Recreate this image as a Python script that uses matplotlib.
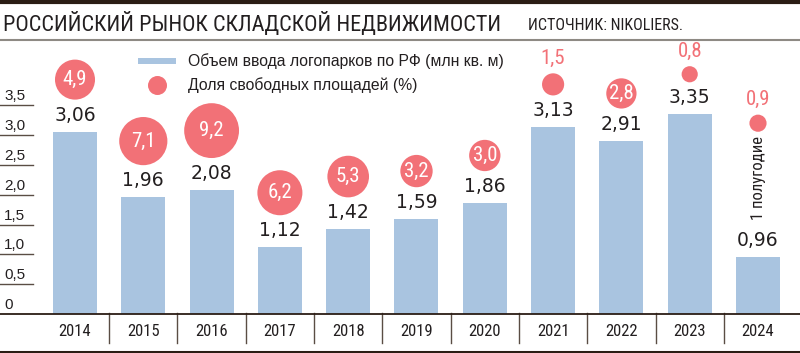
import numpy as np
import matplotlib
matplotlib.use('Agg')
import matplotlib.pyplot as plt
from matplotlib import font_manager, transforms
from matplotlib.font_manager import FontProperties
from matplotlib.lines import Line2D
from matplotlib.patches import Rectangle

# данные
years = ['2014', '2015', '2016', '2017', '2018', '2019', '2020', '2021', '2022', '2023', '2024']
volume = [3.06, 1.96, 2.08, 1.12, 1.42, 1.59, 1.86, 3.13, 2.91, 3.35, 0.96]
vacancy = [4.9, 7.1, 9.2, 6.2, 5.3, 3.2, 3.0, 1.5, 2.8, 0.8, 0.9]
yticks = [0, 0.5, 1.0, 1.5, 2.0, 2.5, 3.0, 3.5]

title = 'РОССИЙСКИЙ РЫНОК СКЛАДСКОЙ НЕДВИЖИМОСТИ'
source = 'ИСТОЧНИК: NIKOLIERS.'
leg_bar = 'Объем ввода логопарков по РФ (млн кв. м)'
leg_dot = 'Доля свободных площадей (%)'
note_2024 = '1 полугодие'

BAR = '#a9c4e0'
DOT = '#f27177'
INK = '#231f20'
RULE = '#2b1d15'
GRID = '#5a4d44'


def comma(v, fmt):
    return (fmt % v).replace('.', ',')


# ищем узкий шрифт, если есть
def pick_narrow():
    ttf = font_manager.fontManager.ttflist
    names = {f.name for f in ttf}
    for c in ['Liberation Sans Narrow', 'Roboto Condensed', 'Noto Sans Condensed', 'Open Sans Condensed']:
        if c in names:
            return c, 'normal'
    for f in ttf:
        if f.name in ('Noto Sans', 'DejaVu Sans', 'Open Sans') and str(f.stretch) in ('condensed', 'semi-condensed'):
            return f.name, 'condensed'
    return 'Liberation Sans', 'normal'


NARROW, STRETCH = pick_narrow()


def nf(size, weight='normal'):
    return FontProperties(family=NARROW, stretch=STRETCH, size=size, weight=weight)


W, H = 800, 353
fig = plt.figure(figsize=(W / 100, H / 100), dpi=100)
fig.patch.set_facecolor('white')

px_unit = 59.6  # пикселей на 1 млн кв. м
step = 68.3     # пикселей между годами
ax = fig.add_axes([0, 39 / H, 1, 274 / H])
ax.set_xlim(-75 / step, (W - 75) / step)
ax.set_ylim(0, 274 / px_unit)
ax.axis('off')

x = np.arange(len(years))
ax.bar(x, volume, width=44 / step, color=BAR, zorder=2)

# подписи столбцов
for i, v in enumerate(volume):
    tr = transforms.offset_copy(ax.transData, fig=fig, y=7, units='dots')
    ax.text(i, v, comma(v, '%.2f'), transform=tr, ha='center', va='bottom',
            fontsize=13.5, family='DejaVu Sans', color=INK)

# пузыри (площадь ~ доле свободных площадей)
extra = [0] * 10 + [93]
for i, (v, p) in enumerate(zip(volume, vacancy)):
    r = 9.04 * np.sqrt(p)
    dy = 32 + r + extra[i]
    tr = transforms.offset_copy(ax.transData, fig=fig, y=dy, units='dots')
    ax.scatter([i], [v], s=(2 * r * 0.72) ** 2, color=DOT, edgecolors='none',
               transform=tr, zorder=3, clip_on=False)
    if p >= 2:
        ax.text(i, v, comma(p, '%.1f'), transform=tr, ha='center', va='center',
                fontproperties=nf(15), color='white', zorder=4)
    else:
        tr2 = transforms.offset_copy(ax.transData, fig=fig, y=dy + r + 15, units='dots')
        ax.text(i, v, comma(p, '%.1f'), transform=tr2, ha='center', va='center',
                fontproperties=nf(15), color=DOT, zorder=4)

# 1 полугодие
tr = transforms.offset_copy(ax.transData, fig=fig, y=79, units='dots')
ax.text(10, volume[10], note_2024, transform=tr, rotation=90, ha='center', va='center',
        fontproperties=nf(12), color=INK)

# ось Y
yt = ax.get_yaxis_transform()
for v in yticks:
    if v > 0:
        ax.plot([0, 33 / W], [v, v], transform=yt, color=GRID, lw=1, clip_on=False)
    tr = transforms.offset_copy(yt, fig=fig, y=2, units='dots')
    lab = '0' if v == 0 else comma(v, '%.1f')
    ax.text(4 / W, v, lab, transform=tr, ha='left', va='bottom',
            fontsize=11, family='Liberation Sans', color=INK)

# базовая линия, годы, разделители
ax.axhline(0, color=RULE, lw=1.3, clip_on=False, zorder=5)
bt = transforms.blended_transform_factory(ax.transData, fig.transFigure)
for i, yr in enumerate(years):
    ax.text(i, 1 - 332 / H, yr, transform=bt, ha='center', va='center',
            fontproperties=nf(12), color=INK)
    if i < len(years) - 1:
        ax.plot([i + 0.5, i + 0.5], [1 - 313 / H, 1 - 343 / H], transform=bt,
                color=GRID, lw=1, clip_on=False)

# шапка
fig.add_artist(Line2D([0, 1], [1 - 2 / H, 1 - 2 / H], color=RULE, lw=3))
fig.add_artist(Line2D([0, 1], [1 - 40 / H, 1 - 40 / H], color='#8e8a84', lw=1.5))
fig.add_artist(Line2D([0, 1], [1 - 351.5 / H, 1 - 351.5 / H], color=RULE, lw=2.2))
fig.text(3 / W, 1 - 31 / H, title, ha='left', va='baseline', fontproperties=nf(16), color=INK)
fig.text(528 / W, 1 - 30 / H, source, ha='left', va='baseline', fontproperties=nf(11.5), color=INK)

# легенда
fig.add_artist(Rectangle((138 / W, 1 - 63.5 / H), 38 / W, 6 / H, color=BAR, lw=0))
fig.add_artist(Line2D([157 / W], [1 - 84.5 / H], marker='o', markersize=19 * 0.72,
                      color=DOT, markeredgewidth=0, ls='none'))
fig.text(188 / W, 1 - 61 / H, leg_bar, ha='left', va='center', fontsize=11.3,
         family='Liberation Sans', color=INK)
fig.text(188 / W, 1 - 85 / H, leg_dot, ha='left', va='center', fontsize=11.3,
         family='Liberation Sans', color=INK)

fig.savefig('out.png', dpi=100, facecolor='white')
